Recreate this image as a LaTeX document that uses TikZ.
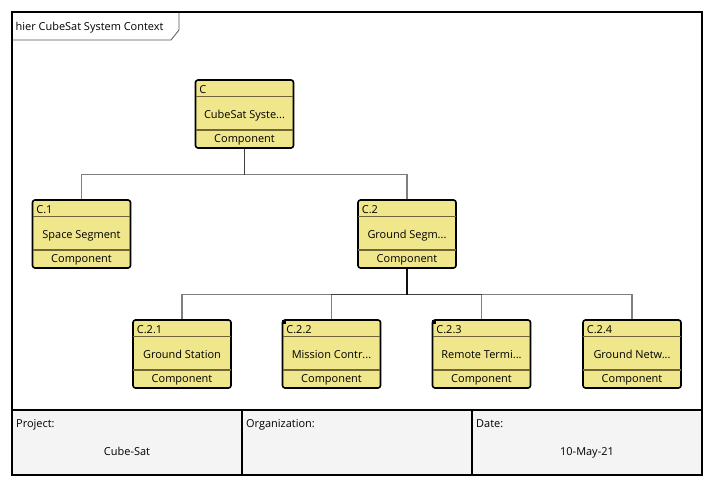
\documentclass[tikz,border=0pt]{standalone}
\usepackage{fontspec}
\setmainfont{Open Sans}
\usetikzlibrary{positioning}

\definecolor{compfill}{HTML}{F0E68C}
\definecolor{compline}{HTML}{6E6437}
\definecolor{cellfill}{HTML}{F4F4F4}

\tikzset{
  comp/.style={draw, line width=1.6pt, rounded corners=2.5pt, fill=compfill,
    minimum width=98bp, minimum height=68bp, inner sep=0pt},
  divider/.style={draw=compline, line width=1.5pt},
  txt/.style={inner sep=0pt, text height=8bp, text depth=2.5bp, font=\fontsize{11}{12}\selectfont},
  idtext/.style={txt, anchor=west},
  midtext/.style={txt},
  branch/.style={draw=black, draw opacity=0.5, line width=1.3pt},
  celltext/.style={txt},
  marker/.style={fill=black, minimum size=4bp, inner sep=0pt, anchor=north west},
}

% dividers and texts of one component box
\newcommand{\compparts}[3]{%
  \draw[divider] ([xshift=0.9bp,yshift=-17.5bp]#1.north west) -- ([xshift=-0.9bp,yshift=-17.5bp]#1.north east);
  \draw[divider] ([xshift=0.9bp,yshift=19bp]#1.south west) -- ([xshift=-0.9bp,yshift=19bp]#1.south east);
  \node[idtext] (#1-id) at ([xshift=4.5bp,yshift=-12bp]#1.north west) {#2};
  \node[midtext] (#1-name) at ([yshift=-36.2bp]#1.north) {#3};
  \node[midtext] (#1-type) at ([yshift=8.7bp]#1.south) {Component};
}

\begin{document}
\begin{tikzpicture}[x=1bp,y=-1bp]
  \useasboundingbox (0,0) rectangle (714,486);

  % frame and title tab
  \fill[white] (12,12) rectangle (702,475);
  \fill[cellfill] (12,410) rectangle (702,475);
  \draw[black!65, line width=0.8pt] (179,12) -- (179,30) -- (171,40) -- (12,40);
  \node[txt, anchor=west] (frametitle) at (15.5,27.3) {hier CubeSat System Context};

  % components
  \node[comp] (C)   at (244.5,114) {};
  \node[comp] (C1)  at (81.5,234)  {};
  \node[comp] (C2)  at (407,234)   {};
  \node[comp] (C21) at (182,354)   {};
  \node[comp] (C22) at (331.5,354) {};
  \node[comp] (C23) at (481.5,354) {};
  \node[comp] (C24) at (632,354)   {};

  \compparts{C}{C}{CubeSat Syste...}
  \compparts{C1}{C.1}{Space Segment}
  \compparts{C2}{C.2}{Ground Segm...}
  \compparts{C21}{C.2.1}{Ground Station}
  \compparts{C22}{C.2.2}{Mission Contr...}
  \compparts{C23}{C.2.3}{Remote Termi...}
  \compparts{C24}{C.2.4}{Ground Netw...}

  \node[marker] (C22-mark) at ([xshift=0.2bp,yshift=-0.2bp]C22.north west) {};
  \node[marker] (C23-mark) at ([xshift=0.2bp,yshift=-0.2bp]C23.north west) {};

  % connectors
  \coordinate (Cj)  at ([yshift=-26bp]C.south);
  \coordinate (C2j) at ([yshift=-26bp]C2.south);
  \foreach \child in {C1,C2}
    \draw[branch] (C.south) -- (Cj) -| (\child.north);
  \foreach \child in {C21,C22,C23,C24}
    \draw[branch] (C2.south) -- (C2j) -| (\child.north);

  % title block
  \draw[line width=1.4pt] (12,410) -- (702,410);
  \draw[line width=1.4pt] (242,410) -- (242,475);
  \draw[line width=1.4pt] (472,410) -- (472,475);
  \node[celltext, anchor=west] (project) at (16,424.3) {Project:};
  \node[celltext] (projectname) at (127,452.3) {Cube-Sat};
  \node[celltext, anchor=west] (org) at (246,424.3) {Organization:};
  \node[celltext, anchor=west] (date) at (476,424.3) {Date:};
  \node[celltext] (datevalue) at (587,452.3) {10-May-21};

  \draw[line width=2pt] (12,12) rectangle (702,475);
\end{tikzpicture}
\end{document}
